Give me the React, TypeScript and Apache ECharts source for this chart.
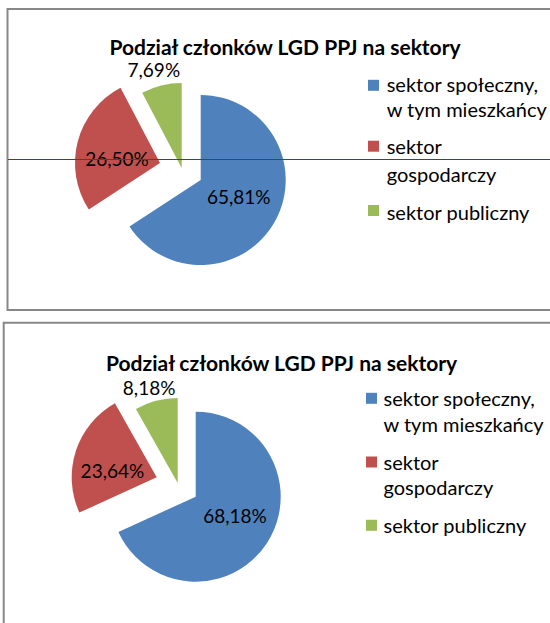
import React, { useEffect, useRef } from "react";
import * as echarts from "echarts";

const chartTitle = "Podział członków LGD PPJ na sektory";
const categories = ["sektor społeczny, w tym mieszkańcy", "sektor gospodarczy", "sektor publiczny"];
const legendLines = [["sektor społeczny,", "w tym mieszkańcy"], ["sektor", "gospodarczy"], ["sektor publiczny"]];
const chart1Values = [65.81, 26.5, 7.69];
const chart2Values = [68.18, 23.64, 8.18];
const colors = ["#4f81bd", "#c0504d", "#9bbb59"];

const FONT = "Lato";

function fmt(v: number) {
  return v.toFixed(2).replace(".", ",") + "%";
}

function sliceSeries(values: number[], idx: number, center: number[], dx: number, dy: number) {
  return {
    type: "pie",
    silent: true,
    radius: 85,
    center,
    startAngle: 90,
    clockwise: true,
    avoidLabelOverlap: false,
    emphasis: { disabled: true },
    labelLayout: { dx, dy },
    data: values.map((v, i) => ({
      name: categories[i],
      value: v,
      itemStyle: { color: i === idx ? colors[i] : "rgba(0,0,0,0)", borderWidth: 0 },
      label: {
        show: i === idx,
        position: "inside",
        formatter: () => fmt(v),
        color: "#000",
        fontFamily: FONT,
        fontSize: 19,
        lineHeight: 16,
      },
      labelLine: { show: false },
    })),
  };
}

function legendGraphics(squareX: number, textX: number, squareYs: number[], lineYs: number[][]) {
  const out: any[] = [];
  legendLines.forEach((lines, i) => {
    out.push({
      type: "rect",
      shape: { x: squareX, y: squareYs[i] - 5.5, width: 11, height: 11 },
      style: { fill: colors[i] },
      silent: true,
    });
    lines.forEach((ln, j) => {
      out.push({
        type: "text",
        x: textX,
        y: lineYs[i][j],
        style: { text: ln, fill: "#000", font: `20px ${FONT}`, verticalAlign: "middle", align: "left" },
        silent: true,
      });
    });
  });
  return out;
}

export default function App() {
  const ref = useRef<HTMLDivElement>(null);
  useEffect(() => {
    if (!ref.current) return;
    const chart = echarts.init(ref.current, null, { renderer: "svg" });
    const titleStyle = { fontFamily: FONT, fontWeight: "bold", fontSize: 21, lineHeight: 18, color: "#000" };
    const option: any = {
      animation: false,
      backgroundColor: "#fff",
      title: [
        { text: chartTitle, left: 285, top: 37, padding: 0, textAlign: "center", textStyle: titleStyle },
        { text: chartTitle, left: 281.6, top: 353, padding: 0, textAlign: "center", textStyle: titleStyle },
      ],
      series: [
        sliceSeries(chart1Values, 0, [200.7, 180], -2, -5),
        sliceSeries(chart1Values, 1, [160, 163], 1, 7),
        sliceSeries(chart1Values, 2, [181.7, 168], -17, -54),
        sliceSeries(chart2Values, 0, [195.7, 496.7], 1, -5.5),
        sliceSeries(chart2Values, 1, [156.7, 477.3], -1, 7.5),
        sliceSeries(chart2Values, 2, [177.7, 483], -17, -51),
      ],
      graphic: [
        {
          type: "rect",
          shape: { x: 7.5, y: 9, width: 600, height: 301 },
          style: { fill: "none", stroke: "#888888", lineWidth: 2 },
          silent: true,
        },
        {
          type: "rect",
          shape: { x: 3.7, y: 322.7, width: 600, height: 400 },
          style: { fill: "none", stroke: "#888888", lineWidth: 2 },
          silent: true,
        },
        {
          type: "line",
          shape: { x1: 8, y1: 159.5, x2: 550, y2: 159.5 },
          style: { stroke: "#e00000", lineWidth: 1 },
          silent: true,
          z: 100,
        },
        ...legendGraphics(368, 386.7, [85.3, 146.2, 210.5], [[84.2, 108.5], [146.2, 173.5], [211.8]]),
        ...legendGraphics(366, 383.5, [398.3, 462, 525.3], [[397.8, 423.5], [461.8, 486.8], [525.2]]),
      ],
    };
    chart.setOption(option);
    return () => chart.dispose();
  }, []);
  return (
    <div
      ref={ref}
      style={{ position: "fixed", left: 0, top: 0, width: 550, height: 623, background: "#fff" }}
    />
  );
}
